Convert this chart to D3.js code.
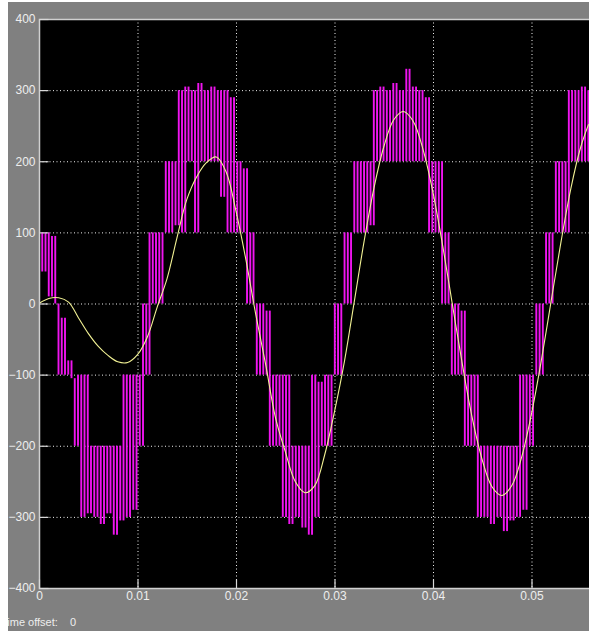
<!DOCTYPE html>
<html lang="en">
<head>
    <meta charset="UTF-8">
    <title>Scope</title>
    <script src="https://cdnjs.cloudflare.com/ajax/libs/d3/7.8.5/d3.min.js"></script>
    <style>
        body { margin: 0; background: #ffffff; overflow: hidden; }
        svg { display: block; }
        .tick-label { font-family: "Liberation Sans", Arial, sans-serif; font-size: 12px; fill: #eeeeee; }
    </style>
</head>
<body>
<svg id="chart" width="589" height="631"></svg>
<script>
// axis ticks
const xTicks = [0, 0.01, 0.02, 0.03, 0.04, 0.05];
const xTickLabels = ["0", "0.01", "0.02", "0.03", "0.04", "0.05"];
const yTicks = [400, 300, 200, 100, 0, -100, -200, -300, -400];

// filtered output (yellow)
const yellowT = [0, 0.001, 0.002, 0.003, 0.004, 0.005, 0.006, 0.007, 0.008, 0.009,
    0.010, 0.011, 0.012, 0.013, 0.014, 0.015, 0.016, 0.017, 0.018, 0.019,
    0.020, 0.021, 0.022, 0.023, 0.024, 0.025, 0.026, 0.027, 0.028, 0.029,
    0.030, 0.031, 0.032, 0.033, 0.034, 0.035, 0.036, 0.037, 0.038, 0.039,
    0.040, 0.041, 0.042, 0.043, 0.044, 0.045, 0.046, 0.047, 0.048, 0.049,
    0.050, 0.051, 0.052, 0.053, 0.054, 0.055, 0.0558];
const yellowV = [0, 7, 8, 2, -20, -42, -60, -73, -82, -83,
    -72, -47, -5, 35, 92, 146, 178, 198, 206, 185,
    130, 62, -15, -85, -160, -208, -250, -266, -256, -213,
    -152, -82, 2, 87, 162, 220, 258, 270, 256, 216,
    156, 80, -4, -87, -162, -220, -258, -270, -256, -216,
    -155, -80, 4, 87, 162, 220, 252];

// inverter output (magenta), one level per sample step
const pwmDt = 0.00033;
const pwmLevels = [
    100, 45, 100, 10, 95, 0, -100, -20, -100, -80,
    -105, -200, -100, -300, -100, -295, -200, -300, -200, -310,
    -200, -295, -200, -325, -200, -305, -100, -300, -100, -290,
    -100, -200, 0, -100, 100, 0, 100, 0, 100, 200,
    100, 200, 110, 300, 100, 305, 200, 300, 100, 310,
    200, 300, 200, 305, 200, 300, 150, 300, 100, 290,
    100, 200, 100, 190, 0, 100, 0, -100, 0, -100,
    -10, -200, -100, -200, -100, -300, -100, -310, -200, -300,
    -200, -315, -200, -325, -100, -300, -110, -200, -100, -200,
    -100, 0, -100, 0, 100, 0, 100, 200, 100, 200,
    100, 200, 110, 300, 200, 305, 200, 300, 200, 310,
    200, 300, 200, 330, 200, 305, 200, 300, 200, 290,
    100, 200, 100, 200, 0, 100, 0, -100, 0, -100,
    -10, -200, -100, -200, -100, -300, -200, -300, -200, -310,
    -200, -300, -200, -320, -200, -305, -200, -300, -100, -290,
    -100, -200, -100, 0, -100, 0, 100, 0, 100, 200,
    100, 200, 100, 300, 200, 300, 200, 305, 200, 300
];

const W = 589, H = 631;
const plot = { left: 39, top: 19, bottom: 588, right: 640 };

const svg = d3.select("#chart");

// grey scope panel
svg.append("rect")
    .attr("x", 8).attr("y", 2)
    .attr("width", W).attr("height", H)
    .attr("fill", "#808080");

const x = d3.scaleLinear().domain([0, 0.06]).range([plot.left, plot.left + 591]);
const y = d3.scaleLinear().domain([-400, 400]).range([plot.bottom, plot.top]);

svg.append("defs").append("clipPath").attr("id", "plotClip")
    .append("rect")
    .attr("x", plot.left).attr("y", plot.top)
    .attr("width", plot.right - plot.left).attr("height", plot.bottom - plot.top);

// black plot area
svg.append("rect")
    .attr("x", plot.left).attr("y", plot.top)
    .attr("width", plot.right - plot.left).attr("height", plot.bottom - plot.top)
    .attr("fill", "#000000");

// dotted grid
const grid = svg.append("g").attr("clip-path", "url(#plotClip)");
grid.selectAll("line.gy").data(yTicks.filter(d => d !== 400 && d !== -400)).enter()
    .append("line")
    .attr("x1", plot.left).attr("x2", plot.right)
    .attr("y1", d => y(d) + 0.5).attr("y2", d => y(d) + 0.5)
    .attr("stroke", "#f0f0f0").attr("stroke-width", 1)
    .attr("stroke-dasharray", "1,2.5");
grid.selectAll("line.gx").data(xTicks.filter(d => d !== 0)).enter()
    .append("line")
    .attr("x1", d => x(d) + 0.5).attr("x2", d => x(d) + 0.5)
    .attr("y1", plot.top).attr("y2", plot.bottom)
    .attr("stroke", "#f0f0f0").attr("stroke-width", 1)
    .attr("stroke-dasharray", "1,2.5");

// traces
const traces = svg.append("g").attr("clip-path", "url(#plotClip)");

// switching edges: one vertical stroke per change of level
const edges = pwmLevels.slice(1).map((v, i) => ({ t: (i + 1) * pwmDt, from: pwmLevels[i], to: v }));
traces.selectAll("line.edge").data(edges).enter()
    .append("line")
    .attr("x1", d => x(d.t)).attr("x2", d => x(d.t))
    .attr("y1", d => y(d.from)).attr("y2", d => y(d.to))
    .attr("stroke", "#f014f0")
    .attr("stroke-width", 1.9);

const yellowLine = d3.line()
    .x((d, i) => x(yellowT[i]))
    .y(d => y(d))
    .curve(d3.curveCatmullRom);
traces.append("path")
    .datum(yellowV)
    .attr("d", yellowLine)
    .attr("fill", "none")
    .attr("stroke", "#f2f294")
    .attr("stroke-width", 1.1);

// frame
svg.append("path")
    .attr("d", `M${plot.right},${plot.top + 0.5}H${plot.left + 0.5}V${plot.bottom + 0.5}H${plot.right}`)
    .attr("fill", "none")
    .attr("stroke", "#d0d0d0")
    .attr("stroke-width", 1.5);

// axes with inward ticks
const yAxis = d3.axisLeft(y).tickValues(yTicks).tickSize(-9).tickPadding(4);
const gy = svg.append("g").attr("transform", `translate(${plot.left + 0.5},0)`).call(yAxis);
const xAxis = d3.axisBottom(x).tickValues(xTicks).tickFormat((d, i) => xTickLabels[i]).tickSize(-9).tickPadding(3);
const gx = svg.append("g").attr("transform", `translate(0,${plot.bottom + 0.5})`).call(xAxis);

[gx, gy].forEach(g => {
    g.select(".domain").remove();
    g.selectAll(".tick line").attr("stroke", "#d8d8d8").attr("stroke-width", 1.2);
    g.selectAll(".tick text").attr("class", "tick-label").attr("fill", "#eeeeee");
});

// time offset note (left edge is cut by the panel)
svg.append("defs").append("clipPath").attr("id", "panelClip")
    .append("rect").attr("x", 8).attr("y", 0).attr("width", W).attr("height", H);
const note = svg.append("g").attr("clip-path", "url(#panelClip)");
note.append("text")
    .attr("x", 1).attr("y", 626)
    .attr("class", "tick-label")
    .style("font-size", "11px")
    .text("Time offset:");
note.append("text")
    .attr("x", 70).attr("y", 626)
    .attr("class", "tick-label")
    .style("font-size", "11px")
    .text("0");
</script>
</body>
</html>
